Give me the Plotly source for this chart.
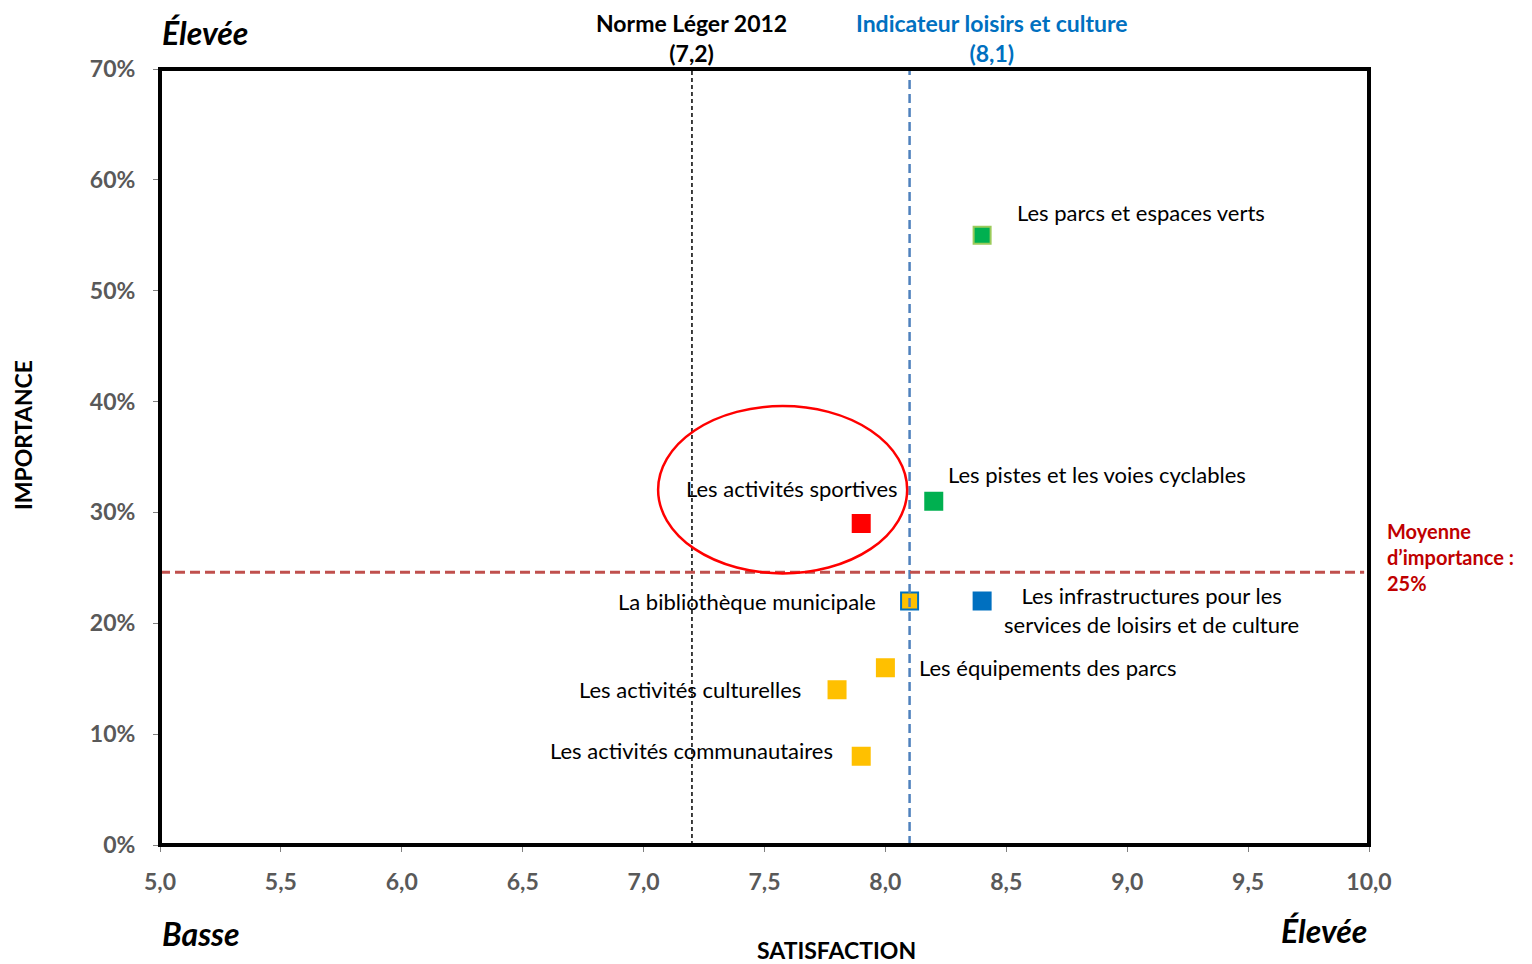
import plotly.graph_objects as go

# ---- data ----
services = [
    "Les parcs et espaces verts",
    "Les pistes et les voies cyclables",
    "Les activités sportives",
    "La bibliothèque municipale",
    "Les infrastructures pour les<br>services de loisirs et de culture",
    "Les équipements des parcs",
    "Les activités culturelles",
    "Les activités communautaires",
]
satisfaction = [8.4, 8.2, 7.9, 8.1, 8.4, 8.0, 7.8, 7.9]
importance = [0.55, 0.31, 0.29, 0.22, 0.22, 0.16, 0.14, 0.08]
fill_colors = ["#00B050", "#00B050", "#FF0000", "#FFC000", "#0070C0", "#FFC000", "#FFC000", "#FFC000"]
edge_colors = ["#9BCB5B", "#00B050", "#FF0000", "#0070C0", "#0070C0", "#FFC000", "#FFC000", "#FFC000"]

norme_leger = 7.2
indicateur = 8.1
moyenne_importance = 0.246

x_ticks = [5.0, 5.5, 6.0, 6.5, 7.0, 7.5, 8.0, 8.5, 9.0, 9.5, 10.0]
x_tick_labels = ["5,0", "5,5", "6,0", "6,5", "7,0", "7,5", "8,0", "8,5", "9,0", "9,5", "10,0"]
y_ticks = [0, 0.1, 0.2, 0.3, 0.4, 0.5, 0.6, 0.7]
y_tick_labels = ["0%", "10%", "20%", "30%", "40%", "50%", "60%", "70%"]

# label placement (data units)
label_pos = [
    (8.536, 0.571, "left", "middle"),
    (8.25, 0.334, "left", "middle"),
    (7.167, 0.322, "left", "middle"),
    (7.97, 0.220, "right", "middle"),
    (9.10, 0.212, "center", "middle"),
    (8.13, 0.160, "left", "middle"),
    (7.66, 0.140, "right", "middle"),
    (7.79, 0.085, "right", "middle"),
]

FONT = "Lato, 'Open Sans', sans-serif"

fig = go.Figure()
fig.add_trace(go.Scatter(
    x=satisfaction, y=importance, mode="markers",
    marker=dict(symbol="square", size=17, color=fill_colors,
                line=dict(color=edge_colors, width=2)),
    hovertext=services, showlegend=False,
))

for (lx, ly, xa, ya), name in zip(label_pos, services):
    fig.add_annotation(x=lx, y=ly, text=name, showarrow=False, xanchor=xa, yanchor=ya,
                       align="center", font=dict(size=22, color="#000000", family=FONT))

# reference lines
fig.add_shape(type="line", x0=norme_leger, x1=norme_leger, y0=0, y1=0.7, xref="x", yref="y",
              line=dict(color="#000000", width=1.5, dash="4px,3px"))
fig.add_shape(type="line", x0=indicateur, x1=indicateur, y0=0, y1=0.7, xref="x", yref="y",
              line=dict(color="#4F81BD", width=2.5, dash="9px,5px"))
fig.add_shape(type="line", x0=5.0, x1=9.98, y0=moyenne_importance, y1=moyenne_importance,
              xref="x", yref="y", line=dict(color="#C0504D", width=3, dash="10px,5px"))

# highlight ellipse
fig.add_shape(type="circle", x0=7.06, x1=8.09, y0=0.245, y1=0.396, xref="x", yref="y",
              line=dict(color="#FF0000", width=2.5))

# frame
fig.add_shape(type="rect", x0=0, x1=1, y0=0, y1=1, xref="paper", yref="paper",
              line=dict(color="#000000", width=4))

# top labels
fig.add_annotation(x=norme_leger, y=1.0, xref="x", yref="paper", yshift=1,
                   text="<b>Norme Léger 2012<br>(7,2)</b>", showarrow=False,
                   xanchor="center", yanchor="bottom", borderpad=0,
                   font=dict(size=23, color="#000000", family=FONT))
fig.add_annotation(x=8.44, y=1.0, xref="x", yref="paper", yshift=1,
                   text="<b>Indicateur loisirs et culture<br>(8,1)</b>", showarrow=False,
                   xanchor="center", yanchor="bottom", borderpad=0,
                   font=dict(size=23, color="#0070C0", family=FONT))

# corner labels
fig.add_annotation(text="<b><i>Élevée</i></b>", x=0, y=1, xref="paper", yref="paper",
                   xanchor="left", yanchor="middle", yshift=37, showarrow=False,
                   font=dict(size=32, color="#000000", family=FONT))
fig.add_annotation(text="<b><i>Basse</i></b>", x=0, y=0, xref="paper", yref="paper",
                   xanchor="left", yanchor="middle", yshift=-88, showarrow=False,
                   font=dict(size=32, color="#000000", family=FONT))
fig.add_annotation(text="<b><i>Élevée</i></b>", x=1, y=0, xref="paper", yref="paper",
                   xanchor="right", yanchor="middle", yshift=-85, showarrow=False,
                   font=dict(size=32, color="#000000", family=FONT))

# axis titles
fig.add_annotation(text="<b>SATISFACTION</b>", x=0.5, y=0, xref="paper", yref="paper",
                   xanchor="center", yanchor="middle", xshift=72, yshift=-105, showarrow=False,
                   font=dict(size=23, color="#000000", family=FONT))
fig.add_annotation(text="<b>IMPORTANCE</b>", x=0, y=0.5, xref="paper", yref="paper",
                   xanchor="center", yanchor="middle", xshift=-137, yshift=22, textangle=-90,
                   showarrow=False, font=dict(size=23, color="#000000", family=FONT))

fig.add_annotation(text="<b>Moyenne<br>d’importance :<br>25%</b>", x=1, y=moyenne_importance,
                   xref="paper", yref="y", xanchor="left", yanchor="middle", xshift=16,
                   yshift=15, align="left", showarrow=False,
                   font=dict(size=20, color="#C00000", family=FONT))

# page body has an 8px margin: size the figure to fit the window exactly
fig.update_layout(
    width=1524, height=956,
    margin=dict(l=152, r=163, t=61, b=119, autoexpand=False),
    paper_bgcolor="white", plot_bgcolor="white",
    font=dict(family=FONT),
    xaxis=dict(range=[5.0, 10.0], tickvals=x_ticks,
               ticktext=["<b>%s</b>" % t for t in x_tick_labels],
               showgrid=False, zeroline=False, ticks="outside", ticklen=6,
               ticklabelstandoff=10,
               tickcolor="#808080", tickfont=dict(size=23, color="#595959", family=FONT)),
    yaxis=dict(range=[0, 0.7], tickvals=y_ticks,
               ticktext=["<b>%s</b>" % t for t in y_tick_labels],
               showgrid=False, zeroline=False, ticks="outside", ticklen=6,
               ticklabelstandoff=13,
               tickcolor="#808080", tickfont=dict(size=23, color="#595959", family=FONT)),
)

fig.write_html("out.html")
